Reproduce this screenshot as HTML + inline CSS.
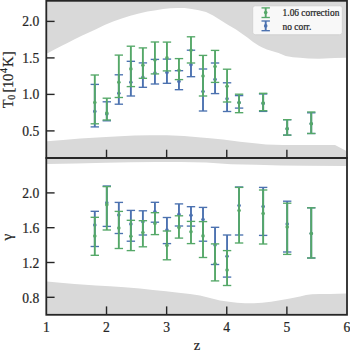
<!DOCTYPE html>
<html><head><meta charset="utf-8"><style>
html,body{margin:0;padding:0;background:#fff;width:350px;height:350px;overflow:hidden}
svg{display:block;font-family:"Liberation Serif",serif}
text{stroke:#262626;stroke-width:0.22px}
</style></head><body>
<svg width="350" height="350" viewBox="0 0 350 350">
<rect width="350" height="350" fill="#fff"/>
<polygon points="47.0,1.0 47.0,53.2 48.1,52.9 53.1,50.3 60.3,46.4 67.4,42.9 74.6,39.3 81.7,35.7 88.9,32.6 96.0,29.3 104.6,24.9 113.1,21.4 121.7,18.5 130.3,15.8 138.9,13.4 147.4,11.5 156.0,10.3 163.1,9.1 170.3,8.3 177.4,7.9 184.6,8.0 191.7,8.9 198.9,10.3 206.0,12.1 213.1,15.4 220.3,20.0 227.4,24.5 236.0,29.4 241.7,33.4 247.4,37.4 253.1,42.0 258.9,45.7 262.3,47.5 266.9,49.4 276.0,52.3 278.6,53.1 285.7,56.0 292.9,57.3 300.0,57.7 308.3,58.6 319.1,58.7 334.6,58.1 346.0,57.8 346.0,1.0" fill="#d9d9d9"/><polygon points="47.0,141.2 63.1,139.9 80.3,138.6 97.4,137.4 106.0,137.0 120.0,136.2 134.6,135.6 150.0,135.2 167.0,135.2 184.0,136.1 201.0,137.4 210.0,138.3 223.0,139.4 240.0,141.7 257.0,143.4 266.0,144.5 283.0,145.0 300.0,145.1 335.0,145.0 346.0,150.7 346.0,158.0 47.0,158.0" fill="#d9d9d9"/><polygon points="47.0,158.0 47.0,164.0 76.0,163.4 106.0,162.8 131.0,162.2 156.0,161.9 181.0,161.9 206.0,162.6 231.0,164.2 256.0,164.7 281.0,165.4 306.0,165.7 346.0,166.1 346.0,158.0" fill="#d9d9d9"/><polygon points="47.0,281.6 60.3,282.8 74.6,283.9 88.9,285.0 96.0,285.4 110.0,286.2 124.6,287.2 140.0,288.6 153.0,290.0 166.0,291.3 178.6,292.7 190.0,294.0 200.0,295.6 210.0,298.0 220.0,300.4 229.0,301.7 237.0,302.7 245.0,303.2 254.0,303.3 262.0,302.8 271.0,301.7 280.0,300.2 290.0,298.4 300.0,296.6 306.0,295.1 312.0,294.3 320.0,294.0 330.0,293.9 346.0,293.6 346.0,315.0 47.0,315.0" fill="#d9d9d9"/><line x1="46.30" y1="21.4" x2="54.60" y2="21.4" stroke="#262626" stroke-width="1.4"/><line x1="46.30" y1="57.9" x2="54.60" y2="57.9" stroke="#262626" stroke-width="1.4"/><line x1="46.30" y1="94.4" x2="54.60" y2="94.4" stroke="#262626" stroke-width="1.4"/><line x1="46.30" y1="130.9" x2="54.60" y2="130.9" stroke="#262626" stroke-width="1.4"/><line x1="46.30" y1="192.9" x2="54.60" y2="192.9" stroke="#262626" stroke-width="1.4"/><line x1="46.30" y1="227.7" x2="54.60" y2="227.7" stroke="#262626" stroke-width="1.4"/><line x1="46.30" y1="262.5" x2="54.60" y2="262.5" stroke="#262626" stroke-width="1.4"/><line x1="46.30" y1="297.3" x2="54.60" y2="297.3" stroke="#262626" stroke-width="1.4"/><line x1="106.52" y1="158" x2="106.52" y2="149.70" stroke="#262626" stroke-width="1.4"/><line x1="106.52" y1="314.7" x2="106.52" y2="306.40" stroke="#262626" stroke-width="1.4"/><line x1="166.64" y1="158" x2="166.64" y2="149.70" stroke="#262626" stroke-width="1.4"/><line x1="166.64" y1="314.7" x2="166.64" y2="306.40" stroke="#262626" stroke-width="1.4"/><line x1="226.76" y1="158" x2="226.76" y2="149.70" stroke="#262626" stroke-width="1.4"/><line x1="226.76" y1="314.7" x2="226.76" y2="306.40" stroke="#262626" stroke-width="1.4"/><line x1="286.88" y1="158" x2="286.88" y2="149.70" stroke="#262626" stroke-width="1.4"/><line x1="286.88" y1="314.7" x2="286.88" y2="306.40" stroke="#262626" stroke-width="1.4"/><line x1="94.80" y1="84.40" x2="94.80" y2="126.90" stroke="#4c72b0" stroke-width="1.9"/><line x1="90.60" y1="84.40" x2="99.00" y2="84.40" stroke="#4c72b0" stroke-width="1.35"/><line x1="90.60" y1="126.90" x2="99.00" y2="126.90" stroke="#4c72b0" stroke-width="1.35"/><circle cx="94.80" cy="111.40" r="1.8" fill="#4c72b0"/><line x1="106.82" y1="101.80" x2="106.82" y2="120.80" stroke="#4c72b0" stroke-width="1.9"/><line x1="102.62" y1="101.80" x2="111.02" y2="101.80" stroke="#4c72b0" stroke-width="1.35"/><line x1="102.62" y1="120.80" x2="111.02" y2="120.80" stroke="#4c72b0" stroke-width="1.35"/><circle cx="106.82" cy="114.00" r="1.8" fill="#4c72b0"/><line x1="118.84" y1="74.80" x2="118.84" y2="104.20" stroke="#4c72b0" stroke-width="1.9"/><line x1="114.64" y1="74.80" x2="123.04" y2="74.80" stroke="#4c72b0" stroke-width="1.35"/><line x1="114.64" y1="104.20" x2="123.04" y2="104.20" stroke="#4c72b0" stroke-width="1.35"/><circle cx="118.84" cy="93.30" r="1.8" fill="#4c72b0"/><line x1="130.87" y1="61.30" x2="130.87" y2="96.00" stroke="#4c72b0" stroke-width="1.9"/><line x1="126.67" y1="61.30" x2="135.07" y2="61.30" stroke="#4c72b0" stroke-width="1.35"/><line x1="126.67" y1="96.00" x2="135.07" y2="96.00" stroke="#4c72b0" stroke-width="1.35"/><circle cx="130.87" cy="82.20" r="1.8" fill="#4c72b0"/><line x1="142.89" y1="62.90" x2="142.89" y2="87.30" stroke="#4c72b0" stroke-width="1.9"/><line x1="138.69" y1="62.90" x2="147.09" y2="62.90" stroke="#4c72b0" stroke-width="1.35"/><line x1="138.69" y1="87.30" x2="147.09" y2="87.30" stroke="#4c72b0" stroke-width="1.35"/><circle cx="142.89" cy="77.40" r="1.8" fill="#4c72b0"/><line x1="154.92" y1="59.40" x2="154.92" y2="84.00" stroke="#4c72b0" stroke-width="1.9"/><line x1="150.72" y1="59.40" x2="159.12" y2="59.40" stroke="#4c72b0" stroke-width="1.35"/><line x1="150.72" y1="84.00" x2="159.12" y2="84.00" stroke="#4c72b0" stroke-width="1.35"/><circle cx="154.92" cy="73.10" r="1.8" fill="#4c72b0"/><line x1="166.94" y1="59.10" x2="166.94" y2="83.30" stroke="#4c72b0" stroke-width="1.9"/><line x1="162.74" y1="59.10" x2="171.14" y2="59.10" stroke="#4c72b0" stroke-width="1.35"/><line x1="162.74" y1="83.30" x2="171.14" y2="83.30" stroke="#4c72b0" stroke-width="1.35"/><circle cx="166.94" cy="72.60" r="1.8" fill="#4c72b0"/><line x1="178.96" y1="70.70" x2="178.96" y2="89.70" stroke="#4c72b0" stroke-width="1.9"/><line x1="174.76" y1="70.70" x2="183.16" y2="70.70" stroke="#4c72b0" stroke-width="1.35"/><line x1="174.76" y1="89.70" x2="183.16" y2="89.70" stroke="#4c72b0" stroke-width="1.35"/><circle cx="178.96" cy="81.40" r="1.8" fill="#4c72b0"/><line x1="190.99" y1="50.20" x2="190.99" y2="76.70" stroke="#4c72b0" stroke-width="1.9"/><line x1="186.79" y1="50.20" x2="195.19" y2="50.20" stroke="#4c72b0" stroke-width="1.35"/><line x1="186.79" y1="76.70" x2="195.19" y2="76.70" stroke="#4c72b0" stroke-width="1.35"/><circle cx="190.99" cy="64.80" r="1.8" fill="#4c72b0"/><line x1="203.01" y1="69.00" x2="203.01" y2="111.00" stroke="#4c72b0" stroke-width="1.9"/><line x1="198.81" y1="69.00" x2="207.21" y2="69.00" stroke="#4c72b0" stroke-width="1.35"/><line x1="198.81" y1="111.00" x2="207.21" y2="111.00" stroke="#4c72b0" stroke-width="1.35"/><circle cx="203.01" cy="91.60" r="1.8" fill="#4c72b0"/><line x1="215.04" y1="63.00" x2="215.04" y2="93.60" stroke="#4c72b0" stroke-width="1.9"/><line x1="210.84" y1="63.00" x2="219.24" y2="63.00" stroke="#4c72b0" stroke-width="1.35"/><line x1="210.84" y1="93.60" x2="219.24" y2="93.60" stroke="#4c72b0" stroke-width="1.35"/><circle cx="215.04" cy="79.40" r="1.8" fill="#4c72b0"/><line x1="227.06" y1="82.80" x2="227.06" y2="111.50" stroke="#4c72b0" stroke-width="1.9"/><line x1="222.86" y1="82.80" x2="231.26" y2="82.80" stroke="#4c72b0" stroke-width="1.35"/><line x1="222.86" y1="111.50" x2="231.26" y2="111.50" stroke="#4c72b0" stroke-width="1.35"/><circle cx="227.06" cy="98.70" r="1.8" fill="#4c72b0"/><line x1="239.08" y1="95.60" x2="239.08" y2="108.10" stroke="#4c72b0" stroke-width="1.9"/><line x1="234.88" y1="95.60" x2="243.28" y2="95.60" stroke="#4c72b0" stroke-width="1.35"/><line x1="234.88" y1="108.10" x2="243.28" y2="108.10" stroke="#4c72b0" stroke-width="1.35"/><circle cx="239.08" cy="102.50" r="1.8" fill="#4c72b0"/><line x1="263.13" y1="94.00" x2="263.13" y2="111.40" stroke="#4c72b0" stroke-width="1.9"/><line x1="258.93" y1="94.00" x2="267.33" y2="94.00" stroke="#4c72b0" stroke-width="1.35"/><line x1="258.93" y1="111.40" x2="267.33" y2="111.40" stroke="#4c72b0" stroke-width="1.35"/><circle cx="263.13" cy="103.40" r="1.8" fill="#4c72b0"/><line x1="287.18" y1="119.70" x2="287.18" y2="135.10" stroke="#4c72b0" stroke-width="1.9"/><line x1="282.98" y1="119.70" x2="291.38" y2="119.70" stroke="#4c72b0" stroke-width="1.35"/><line x1="282.98" y1="135.10" x2="291.38" y2="135.10" stroke="#4c72b0" stroke-width="1.35"/><circle cx="287.18" cy="128.70" r="1.8" fill="#4c72b0"/><line x1="311.23" y1="112.80" x2="311.23" y2="133.50" stroke="#4c72b0" stroke-width="1.9"/><line x1="307.03" y1="112.80" x2="315.43" y2="112.80" stroke="#4c72b0" stroke-width="1.35"/><line x1="307.03" y1="133.50" x2="315.43" y2="133.50" stroke="#4c72b0" stroke-width="1.35"/><circle cx="311.23" cy="123.70" r="1.8" fill="#4c72b0"/><line x1="94.80" y1="75.00" x2="94.80" y2="123.80" stroke="#55a868" stroke-width="1.9"/><line x1="90.60" y1="75.00" x2="99.00" y2="75.00" stroke="#55a868" stroke-width="1.35"/><line x1="90.60" y1="123.80" x2="99.00" y2="123.80" stroke="#55a868" stroke-width="1.35"/><circle cx="94.80" cy="102.50" r="1.8" fill="#55a868"/><line x1="106.82" y1="98.20" x2="106.82" y2="120.00" stroke="#55a868" stroke-width="1.9"/><line x1="102.62" y1="98.20" x2="111.02" y2="98.20" stroke="#55a868" stroke-width="1.35"/><line x1="102.62" y1="120.00" x2="111.02" y2="120.00" stroke="#55a868" stroke-width="1.35"/><circle cx="106.82" cy="113.10" r="1.8" fill="#55a868"/><line x1="118.84" y1="55.10" x2="118.84" y2="97.50" stroke="#55a868" stroke-width="1.9"/><line x1="114.64" y1="55.10" x2="123.04" y2="55.10" stroke="#55a868" stroke-width="1.35"/><line x1="114.64" y1="97.50" x2="123.04" y2="97.50" stroke="#55a868" stroke-width="1.35"/><circle cx="118.84" cy="82.20" r="1.8" fill="#55a868"/><line x1="130.87" y1="46.20" x2="130.87" y2="86.60" stroke="#55a868" stroke-width="1.9"/><line x1="126.67" y1="46.20" x2="135.07" y2="46.20" stroke="#55a868" stroke-width="1.35"/><line x1="126.67" y1="86.60" x2="135.07" y2="86.60" stroke="#55a868" stroke-width="1.35"/><circle cx="130.87" cy="68.90" r="1.8" fill="#55a868"/><line x1="142.89" y1="47.90" x2="142.89" y2="78.30" stroke="#55a868" stroke-width="1.9"/><line x1="138.69" y1="47.90" x2="147.09" y2="47.90" stroke="#55a868" stroke-width="1.35"/><line x1="138.69" y1="78.30" x2="147.09" y2="78.30" stroke="#55a868" stroke-width="1.35"/><circle cx="142.89" cy="65.30" r="1.8" fill="#55a868"/><line x1="154.92" y1="42.00" x2="154.92" y2="73.90" stroke="#55a868" stroke-width="1.9"/><line x1="150.72" y1="42.00" x2="159.12" y2="42.00" stroke="#55a868" stroke-width="1.35"/><line x1="150.72" y1="73.90" x2="159.12" y2="73.90" stroke="#55a868" stroke-width="1.35"/><circle cx="154.92" cy="60.00" r="1.8" fill="#55a868"/><line x1="166.94" y1="42.10" x2="166.94" y2="70.90" stroke="#55a868" stroke-width="1.9"/><line x1="162.74" y1="42.10" x2="171.14" y2="42.10" stroke="#55a868" stroke-width="1.35"/><line x1="162.74" y1="70.90" x2="171.14" y2="70.90" stroke="#55a868" stroke-width="1.35"/><circle cx="166.94" cy="57.90" r="1.8" fill="#55a868"/><line x1="178.96" y1="58.60" x2="178.96" y2="79.60" stroke="#55a868" stroke-width="1.9"/><line x1="174.76" y1="58.60" x2="183.16" y2="58.60" stroke="#55a868" stroke-width="1.35"/><line x1="174.76" y1="79.60" x2="183.16" y2="79.60" stroke="#55a868" stroke-width="1.35"/><circle cx="178.96" cy="70.20" r="1.8" fill="#55a868"/><line x1="190.99" y1="36.80" x2="190.99" y2="63.00" stroke="#55a868" stroke-width="1.9"/><line x1="186.79" y1="36.80" x2="195.19" y2="36.80" stroke="#55a868" stroke-width="1.35"/><line x1="186.79" y1="63.00" x2="195.19" y2="63.00" stroke="#55a868" stroke-width="1.35"/><circle cx="190.99" cy="50.30" r="1.8" fill="#55a868"/><line x1="203.01" y1="55.40" x2="203.01" y2="96.00" stroke="#55a868" stroke-width="1.9"/><line x1="198.81" y1="55.40" x2="207.21" y2="55.40" stroke="#55a868" stroke-width="1.35"/><line x1="198.81" y1="96.00" x2="207.21" y2="96.00" stroke="#55a868" stroke-width="1.35"/><circle cx="203.01" cy="76.00" r="1.8" fill="#55a868"/><line x1="215.04" y1="50.40" x2="215.04" y2="82.40" stroke="#55a868" stroke-width="1.9"/><line x1="210.84" y1="50.40" x2="219.24" y2="50.40" stroke="#55a868" stroke-width="1.35"/><line x1="210.84" y1="82.40" x2="219.24" y2="82.40" stroke="#55a868" stroke-width="1.35"/><circle cx="215.04" cy="66.60" r="1.8" fill="#55a868"/><line x1="227.06" y1="69.20" x2="227.06" y2="102.00" stroke="#55a868" stroke-width="1.9"/><line x1="222.86" y1="69.20" x2="231.26" y2="69.20" stroke="#55a868" stroke-width="1.35"/><line x1="222.86" y1="102.00" x2="231.26" y2="102.00" stroke="#55a868" stroke-width="1.35"/><circle cx="227.06" cy="86.20" r="1.8" fill="#55a868"/><line x1="239.08" y1="94.20" x2="239.08" y2="112.70" stroke="#55a868" stroke-width="1.9"/><line x1="234.88" y1="94.20" x2="243.28" y2="94.20" stroke="#55a868" stroke-width="1.35"/><line x1="234.88" y1="112.70" x2="243.28" y2="112.70" stroke="#55a868" stroke-width="1.35"/><circle cx="239.08" cy="102.70" r="1.8" fill="#55a868"/><line x1="263.13" y1="93.30" x2="263.13" y2="110.70" stroke="#55a868" stroke-width="1.9"/><line x1="258.93" y1="93.30" x2="267.33" y2="93.30" stroke="#55a868" stroke-width="1.35"/><line x1="258.93" y1="110.70" x2="267.33" y2="110.70" stroke="#55a868" stroke-width="1.35"/><circle cx="263.13" cy="103.00" r="1.8" fill="#55a868"/><line x1="287.18" y1="119.70" x2="287.18" y2="135.10" stroke="#55a868" stroke-width="1.9"/><line x1="282.98" y1="119.70" x2="291.38" y2="119.70" stroke="#55a868" stroke-width="1.35"/><line x1="282.98" y1="135.10" x2="291.38" y2="135.10" stroke="#55a868" stroke-width="1.35"/><circle cx="287.18" cy="128.70" r="1.8" fill="#55a868"/><line x1="311.23" y1="112.00" x2="311.23" y2="133.50" stroke="#55a868" stroke-width="1.9"/><line x1="307.03" y1="112.00" x2="315.43" y2="112.00" stroke="#55a868" stroke-width="1.35"/><line x1="307.03" y1="133.50" x2="315.43" y2="133.50" stroke="#55a868" stroke-width="1.35"/><circle cx="311.23" cy="123.70" r="1.8" fill="#55a868"/><line x1="94.80" y1="211.30" x2="94.80" y2="246.50" stroke="#4c72b0" stroke-width="1.9"/><line x1="90.60" y1="211.30" x2="99.00" y2="211.30" stroke="#4c72b0" stroke-width="1.35"/><line x1="90.60" y1="246.50" x2="99.00" y2="246.50" stroke="#4c72b0" stroke-width="1.35"/><circle cx="94.80" cy="225.10" r="1.8" fill="#4c72b0"/><line x1="106.82" y1="186.00" x2="106.82" y2="226.40" stroke="#4c72b0" stroke-width="1.9"/><line x1="102.62" y1="186.00" x2="111.02" y2="186.00" stroke="#4c72b0" stroke-width="1.35"/><line x1="102.62" y1="226.40" x2="111.02" y2="226.40" stroke="#4c72b0" stroke-width="1.35"/><circle cx="106.82" cy="202.80" r="1.8" fill="#4c72b0"/><line x1="118.84" y1="202.40" x2="118.84" y2="233.50" stroke="#4c72b0" stroke-width="1.9"/><line x1="114.64" y1="202.40" x2="123.04" y2="202.40" stroke="#4c72b0" stroke-width="1.35"/><line x1="114.64" y1="233.50" x2="123.04" y2="233.50" stroke="#4c72b0" stroke-width="1.35"/><circle cx="118.84" cy="215.10" r="1.8" fill="#4c72b0"/><line x1="130.87" y1="210.40" x2="130.87" y2="241.20" stroke="#4c72b0" stroke-width="1.9"/><line x1="126.67" y1="210.40" x2="135.07" y2="210.40" stroke="#4c72b0" stroke-width="1.35"/><line x1="126.67" y1="241.20" x2="135.07" y2="241.20" stroke="#4c72b0" stroke-width="1.35"/><circle cx="130.87" cy="224.10" r="1.8" fill="#4c72b0"/><line x1="142.89" y1="210.80" x2="142.89" y2="235.00" stroke="#4c72b0" stroke-width="1.9"/><line x1="138.69" y1="210.80" x2="147.09" y2="210.80" stroke="#4c72b0" stroke-width="1.35"/><line x1="138.69" y1="235.00" x2="147.09" y2="235.00" stroke="#4c72b0" stroke-width="1.35"/><circle cx="142.89" cy="221.70" r="1.8" fill="#4c72b0"/><line x1="154.92" y1="202.30" x2="154.92" y2="222.20" stroke="#4c72b0" stroke-width="1.9"/><line x1="150.72" y1="202.30" x2="159.12" y2="202.30" stroke="#4c72b0" stroke-width="1.35"/><line x1="150.72" y1="222.20" x2="159.12" y2="222.20" stroke="#4c72b0" stroke-width="1.35"/><circle cx="154.92" cy="211.70" r="1.8" fill="#4c72b0"/><line x1="166.94" y1="217.50" x2="166.94" y2="243.60" stroke="#4c72b0" stroke-width="1.9"/><line x1="162.74" y1="217.50" x2="171.14" y2="217.50" stroke="#4c72b0" stroke-width="1.35"/><line x1="162.74" y1="243.60" x2="171.14" y2="243.60" stroke="#4c72b0" stroke-width="1.35"/><circle cx="166.94" cy="230.10" r="1.8" fill="#4c72b0"/><line x1="178.96" y1="203.90" x2="178.96" y2="226.00" stroke="#4c72b0" stroke-width="1.9"/><line x1="174.76" y1="203.90" x2="183.16" y2="203.90" stroke="#4c72b0" stroke-width="1.35"/><line x1="174.76" y1="226.00" x2="183.16" y2="226.00" stroke="#4c72b0" stroke-width="1.35"/><circle cx="178.96" cy="214.40" r="1.8" fill="#4c72b0"/><line x1="190.99" y1="206.70" x2="190.99" y2="226.10" stroke="#4c72b0" stroke-width="1.9"/><line x1="186.79" y1="206.70" x2="195.19" y2="206.70" stroke="#4c72b0" stroke-width="1.35"/><line x1="186.79" y1="226.10" x2="195.19" y2="226.10" stroke="#4c72b0" stroke-width="1.35"/><circle cx="190.99" cy="215.30" r="1.8" fill="#4c72b0"/><line x1="203.01" y1="207.40" x2="203.01" y2="241.20" stroke="#4c72b0" stroke-width="1.9"/><line x1="198.81" y1="207.40" x2="207.21" y2="207.40" stroke="#4c72b0" stroke-width="1.35"/><line x1="198.81" y1="241.20" x2="207.21" y2="241.20" stroke="#4c72b0" stroke-width="1.35"/><circle cx="203.01" cy="219.50" r="1.8" fill="#4c72b0"/><line x1="215.04" y1="227.30" x2="215.04" y2="264.50" stroke="#4c72b0" stroke-width="1.9"/><line x1="210.84" y1="227.30" x2="219.24" y2="227.30" stroke="#4c72b0" stroke-width="1.35"/><line x1="210.84" y1="264.50" x2="219.24" y2="264.50" stroke="#4c72b0" stroke-width="1.35"/><circle cx="215.04" cy="245.00" r="1.8" fill="#4c72b0"/><line x1="227.06" y1="235.00" x2="227.06" y2="277.10" stroke="#4c72b0" stroke-width="1.9"/><line x1="222.86" y1="235.00" x2="231.26" y2="235.00" stroke="#4c72b0" stroke-width="1.35"/><line x1="222.86" y1="277.10" x2="231.26" y2="277.10" stroke="#4c72b0" stroke-width="1.35"/><circle cx="227.06" cy="256.30" r="1.8" fill="#4c72b0"/><line x1="239.08" y1="187.00" x2="239.08" y2="235.00" stroke="#4c72b0" stroke-width="1.9"/><line x1="234.88" y1="187.00" x2="243.28" y2="187.00" stroke="#4c72b0" stroke-width="1.35"/><line x1="234.88" y1="235.00" x2="243.28" y2="235.00" stroke="#4c72b0" stroke-width="1.35"/><circle cx="239.08" cy="205.60" r="1.8" fill="#4c72b0"/><line x1="263.13" y1="187.40" x2="263.13" y2="235.40" stroke="#4c72b0" stroke-width="1.9"/><line x1="258.93" y1="187.40" x2="267.33" y2="187.40" stroke="#4c72b0" stroke-width="1.35"/><line x1="258.93" y1="235.40" x2="267.33" y2="235.40" stroke="#4c72b0" stroke-width="1.35"/><circle cx="263.13" cy="206.60" r="1.8" fill="#4c72b0"/><line x1="287.18" y1="201.20" x2="287.18" y2="252.00" stroke="#4c72b0" stroke-width="1.9"/><line x1="282.98" y1="201.20" x2="291.38" y2="201.20" stroke="#4c72b0" stroke-width="1.35"/><line x1="282.98" y1="252.00" x2="291.38" y2="252.00" stroke="#4c72b0" stroke-width="1.35"/><circle cx="287.18" cy="224.00" r="1.8" fill="#4c72b0"/><line x1="311.23" y1="207.80" x2="311.23" y2="258.00" stroke="#4c72b0" stroke-width="1.9"/><line x1="307.03" y1="207.80" x2="315.43" y2="207.80" stroke="#4c72b0" stroke-width="1.35"/><line x1="307.03" y1="258.00" x2="315.43" y2="258.00" stroke="#4c72b0" stroke-width="1.35"/><circle cx="311.23" cy="233.50" r="1.8" fill="#4c72b0"/><line x1="94.80" y1="217.30" x2="94.80" y2="255.30" stroke="#55a868" stroke-width="1.9"/><line x1="90.60" y1="217.30" x2="99.00" y2="217.30" stroke="#55a868" stroke-width="1.35"/><line x1="90.60" y1="255.30" x2="99.00" y2="255.30" stroke="#55a868" stroke-width="1.35"/><circle cx="94.80" cy="236.10" r="1.8" fill="#55a868"/><line x1="106.82" y1="186.60" x2="106.82" y2="230.00" stroke="#55a868" stroke-width="1.9"/><line x1="102.62" y1="186.60" x2="111.02" y2="186.60" stroke="#55a868" stroke-width="1.35"/><line x1="102.62" y1="230.00" x2="111.02" y2="230.00" stroke="#55a868" stroke-width="1.35"/><circle cx="106.82" cy="204.80" r="1.8" fill="#55a868"/><line x1="118.84" y1="211.40" x2="118.84" y2="248.50" stroke="#55a868" stroke-width="1.9"/><line x1="114.64" y1="211.40" x2="123.04" y2="211.40" stroke="#55a868" stroke-width="1.35"/><line x1="114.64" y1="248.50" x2="123.04" y2="248.50" stroke="#55a868" stroke-width="1.35"/><circle cx="118.84" cy="228.10" r="1.8" fill="#55a868"/><line x1="130.87" y1="220.30" x2="130.87" y2="250.60" stroke="#55a868" stroke-width="1.9"/><line x1="126.67" y1="220.30" x2="135.07" y2="220.30" stroke="#55a868" stroke-width="1.35"/><line x1="126.67" y1="250.60" x2="135.07" y2="250.60" stroke="#55a868" stroke-width="1.35"/><circle cx="130.87" cy="236.30" r="1.8" fill="#55a868"/><line x1="142.89" y1="220.70" x2="142.89" y2="246.80" stroke="#55a868" stroke-width="1.9"/><line x1="138.69" y1="220.70" x2="147.09" y2="220.70" stroke="#55a868" stroke-width="1.35"/><line x1="138.69" y1="246.80" x2="147.09" y2="246.80" stroke="#55a868" stroke-width="1.35"/><circle cx="142.89" cy="232.60" r="1.8" fill="#55a868"/><line x1="154.92" y1="212.70" x2="154.92" y2="234.60" stroke="#55a868" stroke-width="1.9"/><line x1="150.72" y1="212.70" x2="159.12" y2="212.70" stroke="#55a868" stroke-width="1.35"/><line x1="150.72" y1="234.60" x2="159.12" y2="234.60" stroke="#55a868" stroke-width="1.35"/><circle cx="154.92" cy="223.50" r="1.8" fill="#55a868"/><line x1="166.94" y1="231.00" x2="166.94" y2="259.80" stroke="#55a868" stroke-width="1.9"/><line x1="162.74" y1="231.00" x2="171.14" y2="231.00" stroke="#55a868" stroke-width="1.35"/><line x1="162.74" y1="259.80" x2="171.14" y2="259.80" stroke="#55a868" stroke-width="1.35"/><circle cx="166.94" cy="245.40" r="1.8" fill="#55a868"/><line x1="178.96" y1="215.80" x2="178.96" y2="238.10" stroke="#55a868" stroke-width="1.9"/><line x1="174.76" y1="215.80" x2="183.16" y2="215.80" stroke="#55a868" stroke-width="1.35"/><line x1="174.76" y1="238.10" x2="183.16" y2="238.10" stroke="#55a868" stroke-width="1.35"/><circle cx="178.96" cy="227.60" r="1.8" fill="#55a868"/><line x1="190.99" y1="221.40" x2="190.99" y2="243.60" stroke="#55a868" stroke-width="1.9"/><line x1="186.79" y1="221.40" x2="195.19" y2="221.40" stroke="#55a868" stroke-width="1.35"/><line x1="186.79" y1="243.60" x2="195.19" y2="243.60" stroke="#55a868" stroke-width="1.35"/><circle cx="190.99" cy="231.70" r="1.8" fill="#55a868"/><line x1="203.01" y1="221.60" x2="203.01" y2="257.50" stroke="#55a868" stroke-width="1.9"/><line x1="198.81" y1="221.60" x2="207.21" y2="221.60" stroke="#55a868" stroke-width="1.35"/><line x1="198.81" y1="257.50" x2="207.21" y2="257.50" stroke="#55a868" stroke-width="1.35"/><circle cx="203.01" cy="235.90" r="1.8" fill="#55a868"/><line x1="215.04" y1="243.90" x2="215.04" y2="280.90" stroke="#55a868" stroke-width="1.9"/><line x1="210.84" y1="243.90" x2="219.24" y2="243.90" stroke="#55a868" stroke-width="1.35"/><line x1="210.84" y1="280.90" x2="219.24" y2="280.90" stroke="#55a868" stroke-width="1.35"/><circle cx="215.04" cy="263.70" r="1.8" fill="#55a868"/><line x1="227.06" y1="250.60" x2="227.06" y2="285.50" stroke="#55a868" stroke-width="1.9"/><line x1="222.86" y1="250.60" x2="231.26" y2="250.60" stroke="#55a868" stroke-width="1.35"/><line x1="222.86" y1="285.50" x2="231.26" y2="285.50" stroke="#55a868" stroke-width="1.35"/><circle cx="227.06" cy="270.00" r="1.8" fill="#55a868"/><line x1="239.08" y1="187.40" x2="239.08" y2="243.00" stroke="#55a868" stroke-width="1.9"/><line x1="234.88" y1="187.40" x2="243.28" y2="187.40" stroke="#55a868" stroke-width="1.35"/><line x1="234.88" y1="243.00" x2="243.28" y2="243.00" stroke="#55a868" stroke-width="1.35"/><circle cx="239.08" cy="210.60" r="1.8" fill="#55a868"/><line x1="263.13" y1="190.00" x2="263.13" y2="244.00" stroke="#55a868" stroke-width="1.9"/><line x1="258.93" y1="190.00" x2="267.33" y2="190.00" stroke="#55a868" stroke-width="1.35"/><line x1="258.93" y1="244.00" x2="267.33" y2="244.00" stroke="#55a868" stroke-width="1.35"/><circle cx="263.13" cy="213.60" r="1.8" fill="#55a868"/><line x1="287.18" y1="203.20" x2="287.18" y2="254.40" stroke="#55a868" stroke-width="1.9"/><line x1="282.98" y1="203.20" x2="291.38" y2="203.20" stroke="#55a868" stroke-width="1.35"/><line x1="282.98" y1="254.40" x2="291.38" y2="254.40" stroke="#55a868" stroke-width="1.35"/><circle cx="287.18" cy="227.00" r="1.8" fill="#55a868"/><line x1="311.23" y1="207.80" x2="311.23" y2="258.00" stroke="#55a868" stroke-width="1.9"/><line x1="307.03" y1="207.80" x2="315.43" y2="207.80" stroke="#55a868" stroke-width="1.35"/><line x1="307.03" y1="258.00" x2="315.43" y2="258.00" stroke="#55a868" stroke-width="1.35"/><circle cx="311.23" cy="233.50" r="1.8" fill="#55a868"/><rect x="46.30" y="0.8" width="300.70" height="157.20" fill="none" stroke="#262626" stroke-width="1.8"/><rect x="46.30" y="158" width="300.70" height="156.80" fill="none" stroke="#262626" stroke-width="1.8"/><rect x="252.7" y="5.8" width="89.6" height="28.9" rx="2.5" ry="2.5" fill="#ffffff" fill-opacity="0.8" stroke="#cccccc" stroke-opacity="0.8" stroke-width="0.9"/><line x1="265.70" y1="7.90" x2="265.70" y2="17.50" stroke="#55a868" stroke-width="1.9"/><line x1="261.50" y1="7.90" x2="269.90" y2="7.90" stroke="#55a868" stroke-width="1.35"/><line x1="261.50" y1="17.50" x2="269.90" y2="17.50" stroke="#55a868" stroke-width="1.35"/><circle cx="265.70" cy="12.60" r="1.8" fill="#55a868"/><line x1="265.70" y1="21.00" x2="265.70" y2="30.70" stroke="#4c72b0" stroke-width="1.9"/><line x1="261.50" y1="21.00" x2="269.90" y2="21.00" stroke="#4c72b0" stroke-width="1.35"/><line x1="261.50" y1="30.70" x2="269.90" y2="30.70" stroke="#4c72b0" stroke-width="1.35"/><circle cx="265.70" cy="25.90" r="1.8" fill="#4c72b0"/><text x="282.6" y="16.4" font-size="9.4" fill="#262626">1.06 correction</text><text x="282.6" y="29.8" font-size="9.4" fill="#262626">no corr.</text><text x="39.2" y="26.40" font-size="13.6" text-anchor="end" fill="#262626">2.0</text><text x="39.2" y="62.90" font-size="13.6" text-anchor="end" fill="#262626">1.5</text><text x="39.2" y="99.40" font-size="13.6" text-anchor="end" fill="#262626">1.0</text><text x="39.2" y="135.90" font-size="13.6" text-anchor="end" fill="#262626">0.5</text><text x="39.2" y="198.25" font-size="13.6" text-anchor="end" fill="#262626">2.0</text><text x="39.2" y="233.05" font-size="13.6" text-anchor="end" fill="#262626">1.6</text><text x="39.2" y="267.85" font-size="13.6" text-anchor="end" fill="#262626">1.2</text><text x="39.2" y="302.65" font-size="13.6" text-anchor="end" fill="#262626">0.8</text><text x="46.40" y="331.6" font-size="13.6" text-anchor="middle" fill="#262626">1</text><text x="106.52" y="331.6" font-size="13.6" text-anchor="middle" fill="#262626">2</text><text x="166.64" y="331.6" font-size="13.6" text-anchor="middle" fill="#262626">3</text><text x="226.76" y="331.6" font-size="13.6" text-anchor="middle" fill="#262626">4</text><text x="286.88" y="331.6" font-size="13.6" text-anchor="middle" fill="#262626">5</text><text x="347.00" y="331.6" font-size="13.6" text-anchor="middle" fill="#262626">6</text><text transform="translate(12.7,103.85) rotate(-90)" font-size="14.5" text-anchor="middle" fill="#262626">T</text><text transform="translate(14.8,97.15) rotate(-90)" font-size="10" text-anchor="middle" fill="#262626">0</text><text transform="translate(12.7,90.0) rotate(-90)" font-size="14.5" text-anchor="middle" fill="#262626">[</text><text transform="translate(12.7,84.4) rotate(-90)" font-size="14.5" text-anchor="middle" fill="#262626">1</text><text transform="translate(12.7,77.4) rotate(-90)" font-size="14.5" text-anchor="middle" fill="#262626">0</text><text transform="translate(6.8,70.4) rotate(-90)" font-size="10" text-anchor="middle" fill="#262626">4</text><text transform="translate(12.7,61.75) rotate(-90)" font-size="14.5" text-anchor="middle" fill="#262626">K</text><text transform="translate(12.7,53.5) rotate(-90)" font-size="14.5" text-anchor="middle" fill="#262626">]</text><text transform="translate(12.2,237.15) rotate(-90)" font-size="15.5" text-anchor="middle" fill="#262626">γ</text><text x="196.9" y="349.8" font-size="14.5" text-anchor="middle" fill="#262626">z</text>
</svg></body></html>
